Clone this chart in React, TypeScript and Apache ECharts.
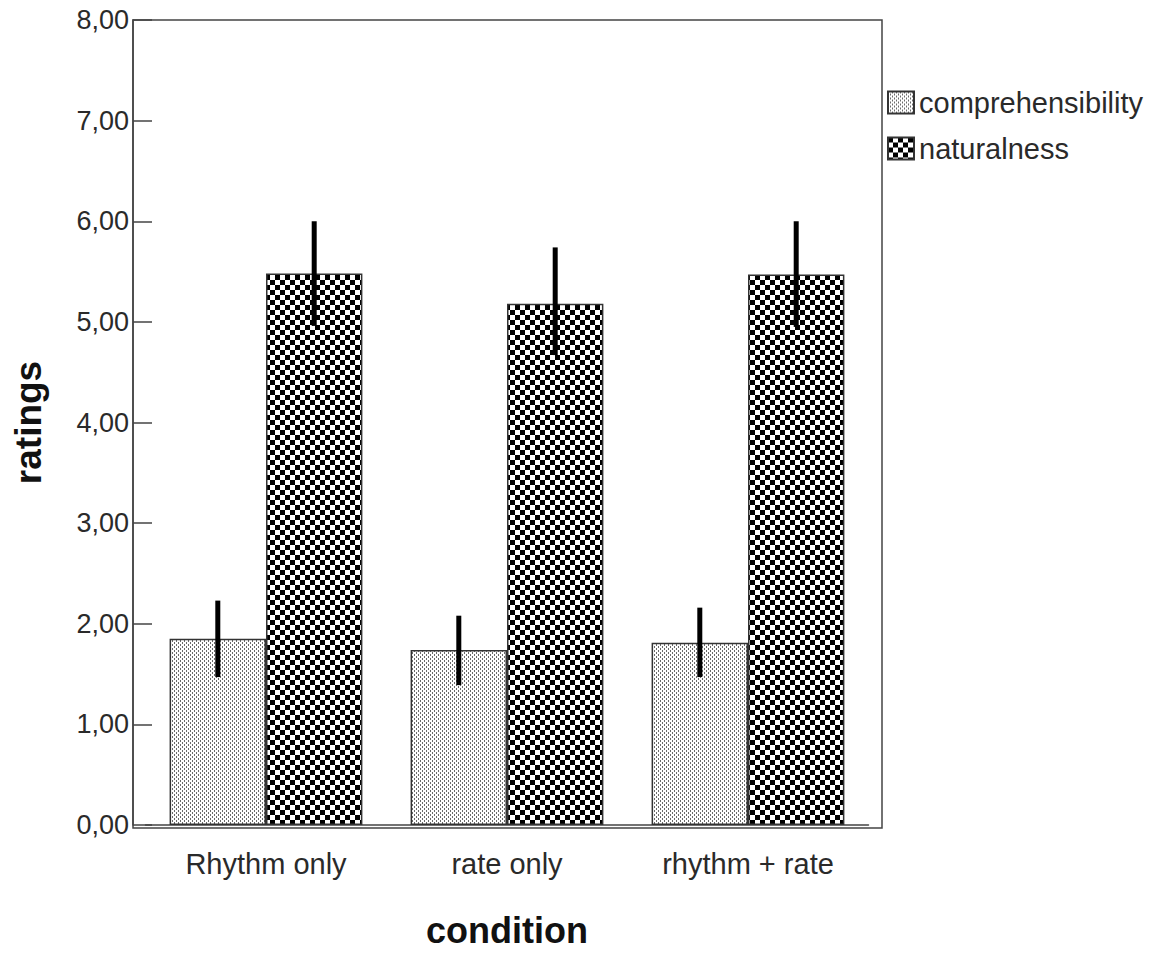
import React, { useEffect, useRef } from "react";
import * as echarts from "echarts";

const categories = ["Rhythm only", "rate only", "rhythm + rate"];
const seriesNames = ["comprehensibility", "naturalness"];
const comprehensibility = [1.85, 1.74, 1.81];
const comprehensibilityLow = [1.47, 1.39, 1.47];
const comprehensibilityHigh = [2.23, 2.08, 2.16];
const naturalness = [5.48, 5.18, 5.47];
const naturalnessLow = [4.96, 4.67, 4.95];
const naturalnessHigh = [6.0, 5.74, 6.0];
const yTicks = { min: 0, max: 8, interval: 1 };

function makeChecker(): HTMLCanvasElement {
  const c = document.createElement("canvas");
  c.width = 10;
  c.height = 10;
  const ctx = c.getContext("2d")!;
  ctx.fillStyle = "#ffffff";
  ctx.fillRect(0, 0, 10, 10);
  ctx.fillStyle = "#000000";
  ctx.fillRect(0, 0, 5, 5);
  ctx.fillRect(5, 5, 5, 5);
  return c;
}

function makeDots(): HTMLCanvasElement {
  const c = document.createElement("canvas");
  c.width = 4;
  c.height = 4;
  const ctx = c.getContext("2d")!;
  ctx.fillStyle = "#ffffff";
  ctx.fillRect(0, 0, 4, 4);
  ctx.fillStyle = "#6a6a6a";
  ctx.fillRect(0, 0, 1, 2);
  ctx.fillRect(2, 2, 1, 2);
  return c;
}

export default function App() {
  const ref = useRef<HTMLDivElement>(null);
  useEffect(() => {
    document.body.style.margin = "0";
    const chart = echarts.init(ref.current!, undefined, { renderer: "svg" });
    const textColor = "#2a2a2a";
    const font = "'Liberation Sans', Arial, sans-serif";
    const errRender = (sign: number) => (params: any, api: any) => {
      const idx = api.value(0);
      const lo = api.coord([idx, api.value(1)]);
      const hi = api.coord([idx, api.value(2)]);
      const bw = api.size([1, 0])[0];
      const dx = sign * bw * 0.2;
      return {
        type: "line",
        shape: { x1: lo[0] + dx, y1: lo[1], x2: hi[0] + dx, y2: hi[1] },
        style: { stroke: "#000", lineWidth: 5 },
      };
    };
    chart.setOption({
      animation: false,
      textStyle: { fontFamily: font, color: textColor },
      grid: { left: 145.5, top: 20, width: 723, height: 808 },
      graphic: [
        {
          type: "rect",
          shape: { x: 133, y: 20, width: 749, height: 808 },
          style: { fill: "none", stroke: "#444", lineWidth: 1.5 },
          z: 0,
        },
      ],
      legend: {
        data: seriesNames,
        orient: "vertical",
        left: 887,
        top: 88,
        itemWidth: 26,
        itemHeight: 22,
        itemGap: 17,
        padding: 0,
        icon: "rect",
        textStyle: { fontSize: 29, color: textColor, fontFamily: font },
      },
      xAxis: {
        type: "category",
        data: categories,
        name: "condition",
        nameLocation: "middle",
        nameGap: 87,
        nameTextStyle: { fontSize: 36, fontWeight: "bold", color: "#111", fontFamily: font },
        axisLine: { lineStyle: { color: "#444", width: 1.5 } },
        axisTick: { alignWithLabel: true, length: 11, lineStyle: { color: "#444", width: 1.5 } },
        axisLabel: { fontSize: 29, color: textColor, margin: 24, fontFamily: font },
      },
      yAxis: {
        type: "value",
        min: yTicks.min,
        max: yTicks.max,
        interval: yTicks.interval,
        offset: 12.5,
        name: "ratings",
        nameLocation: "middle",
        nameGap: 86,
        nameTextStyle: { fontSize: 37, fontWeight: "bold", color: "#111", fontFamily: font },
        splitLine: { show: false },
        axisLine: { show: true, lineStyle: { color: "#444", width: 1.5 } },
        axisTick: { show: true, inside: true, length: 19, lineStyle: { color: "#444", width: 1.5 } },
        axisLabel: {
          fontSize: 27,
          color: textColor,
          margin: 4,
          fontFamily: font,
          formatter: (v: number) => v.toFixed(2).replace(".", ","),
        },
      },
      series: [
        {
          name: seriesNames[0],
          type: "bar",
          data: comprehensibility,
          barWidth: "40%",
          barGap: "0%",
          itemStyle: {
            color: { image: makeDots(), repeat: "repeat" },
            borderColor: "#333",
            borderWidth: 1.5,
          },
          z: 2,
        },
        {
          name: seriesNames[1],
          type: "bar",
          data: naturalness,
          barWidth: "40%",
          barGap: "0%",
          itemStyle: {
            color: { image: makeChecker(), repeat: "repeat" },
            borderColor: "#333",
            borderWidth: 1.5,
          },
          z: 2,
        },
        {
          type: "custom",
          renderItem: errRender(-1),
          data: categories.map((_, i) => [i, comprehensibilityLow[i], comprehensibilityHigh[i]]),
          encode: { x: 0, y: [1, 2] },
          z: 5,
        },
        {
          type: "custom",
          renderItem: errRender(1),
          data: categories.map((_, i) => [i, naturalnessLow[i], naturalnessHigh[i]]),
          encode: { x: 0, y: [1, 2] },
          z: 5,
        },
      ],
    });
    return () => chart.dispose();
  }, []);
  return <div ref={ref} style={{ width: 1166, height: 953 }} />;
}
